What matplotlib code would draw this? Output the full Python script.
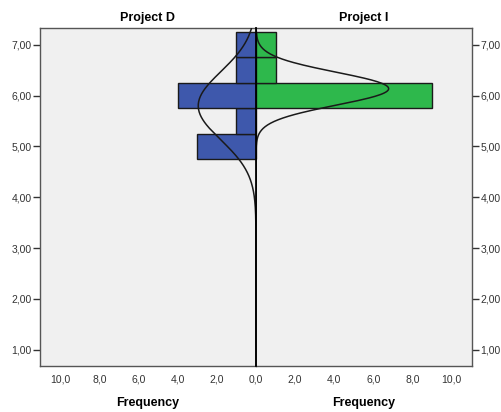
import numpy as np
import matplotlib.pyplot as plt

plt.rcParams['font.family'] = ['Liberation Sans', 'DejaVu Sans']

# bin midpoints (bin width 0.5) and frequencies per project
bins = [5.0, 5.5, 6.0, 6.5, 7.0]
freq_d = [3, 1, 4, 1, 1]
freq_i = [0, 0, 9, 1, 1]
bin_w = 0.5

y_ticks = [1, 2, 3, 4, 5, 6, 7]
x_ticks_left = [2, 4, 6, 8, 10]
x_ticks_right = [0, 2, 4, 6, 8, 10]

blue = '#3E58AC'
green = '#2EB84C'
bg = '#F0F0F0'


def normal_curve(vals, counts, y):
    data = np.repeat(vals, counts)
    m = data.mean()
    s = data.std(ddof=1)
    return len(data) * bin_w / (s * np.sqrt(2 * np.pi)) * np.exp(-0.5 * ((y - m) / s) ** 2)


def comma(v, fmt):
    return (fmt % v).replace('.', ',')


fig = plt.figure(figsize=(5.02, 4.12), dpi=100)
bottom = (412 - 366) / 412
height = 338 / 412
ax1 = fig.add_axes([40 / 502, bottom, 216 / 502, height])
ax2 = fig.add_axes([256 / 502, bottom, 216 / 502, height])

y = np.linspace(0.6, 7.4, 400)
for ax, freq, col, title, xt in [(ax1, freq_d, blue, 'Project D', x_ticks_left),
                                 (ax2, freq_i, green, 'Project I', x_ticks_right)]:
    ax.set_facecolor(bg)
    ax.barh(bins, freq, height=bin_w, color=col, edgecolor='#1a1a1a', linewidth=1.0, zorder=2)
    ax.plot(normal_curve(bins, freq, y), y, color='#1a1a1a', lw=1.1, zorder=3)
    ax.set_xlim(0, 11.05)
    ax.set_ylim(0.68, 7.33)
    ax.set_xticks(xt)
    ax.set_xticklabels([comma(v, '%.1f') for v in xt])
    ax.set_yticks(y_ticks)
    ax.set_yticklabels([comma(v, '%.2f') for v in y_ticks])
    ax.tick_params(axis='x', length=0, pad=6, labelsize=7.5, colors='#333333')
    ax.tick_params(axis='y', length=5, width=1, labelsize=7.5, colors='#333333', pad=1)
    ax.set_title(title, fontsize=9, fontweight='bold', pad=5)
    ax.set_xlabel('Frequency', fontsize=9, fontweight='bold', labelpad=9)
    for sp in ax.spines.values():
        sp.set_color('#555555')
        sp.set_linewidth(1)

ax1.invert_xaxis()
ax1.spines['right'].set_visible(False)
ax2.spines['left'].set_color('black')
ax2.spines['left'].set_linewidth(1.3)
ax2.spines['left'].set_zorder(5)
ax2.yaxis.tick_right()
ax2.tick_params(axis='y', left=False)

fig.savefig('out.png', dpi=100)
